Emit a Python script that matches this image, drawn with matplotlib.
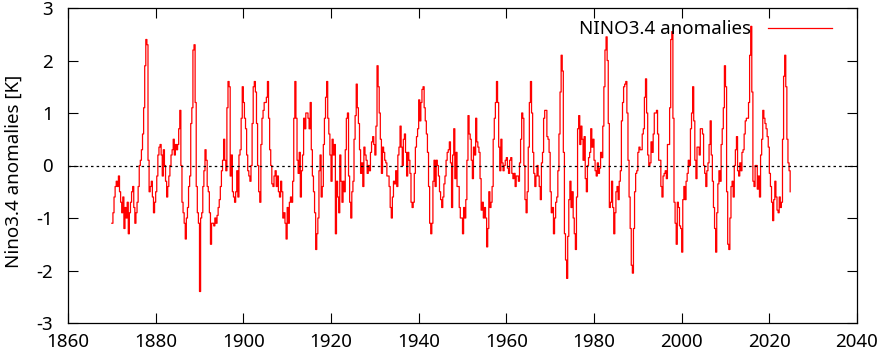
import matplotlib
matplotlib.use("Agg")
import matplotlib.pyplot as plt
import numpy as np

plt.rcParams["font.family"] = ["Noto Sans", "DejaVu Sans"]
plt.rcParams["axes.unicode_minus"] = False

# quarterly NINO3.4 anomalies [K], one list per decade
start_year = 1870
anom_1870s = [-1.1, -0.9, -0.6, -0.4, -0.3, -0.4, -0.2, -0.5, -0.7, -0.9, -0.6, -1.2,
              -0.8, -1.0, -0.7, -1.3, -0.9, -0.7, -0.5, -0.4, -0.8, -1.1, -0.9, -0.7,
              -0.4, 0.0, 0.1, 0.3, 0.6, 1.1, 1.9, 2.4, 2.3, 0.1, -0.5, -0.4,
              -0.3, -0.6, -0.9, -0.7]
anom_1880s = [-0.5, -0.2, 0.2, 0.35, 0.4, 0.2, -0.2, 0.3, 0.0, -0.3, -0.6, -0.4,
              -0.2, 0.0, 0.2, 0.3, 0.5, 0.2, 0.4, 0.3, 0.4, 0.7, 1.05, 0.0,
              -0.7, -0.9, -1.1, -1.4, -1.0, -0.8, -0.4, -0.2, 0.8, 1.1, 2.2, 2.3,
              1.2, -0.4, -0.9, -1.1]
anom_1890s = [-2.4, -1.0, -0.9, -0.4, -0.1, 0.3, 0.1, -0.4, -0.5, -0.9, -1.5, -1.1,
              -1.1, -1.15, -1.0, -1.1, -0.95, -0.8, -0.65, -0.4, -0.1, 0.1, 0.5, 0.1,
              -0.1, 1.1, 1.6, 1.5, -0.2, 0.2, -0.5, -0.6, -0.7, -0.5, -0.1, -0.6,
              0.2, 0.3, 0.9, 1.5]
anom_1900s = [1.2, 0.9, 0.7, 0.2, -0.1, -0.2, -0.3, 0.0, 0.8, 1.5, 1.6, 1.4,
              0.8, 0.0, -0.5, -0.7, 0.4, 0.9, 1.05, 1.2, 1.2, 1.3, 1.6, 0.9,
              0.3, 0.0, -0.35, -0.4, -0.2, -0.1, -0.4, -0.2, -0.5, -0.6, -0.3, -0.5,
              -1.0, -0.9, -1.1, -1.4]
anom_1910s = [-0.8, -1.1, -0.7, -0.6, -0.7, -0.3, 0.9, 1.6, 0.9, 0.1, -0.15, 0.25,
              -0.6, -0.1, 0.2, 0.9, 0.7, 1.0, 1.0, 0.9, 0.7, 1.2, 0.3, -0.2,
              -0.5, -0.9, -1.6, -1.3, -1.0, -0.1, 0.2, -0.6, -0.4, 0.4, 0.9, 1.3,
              1.6, 0.9, 0.6, 0.2]
anom_1920s = [-0.3, 0.5, 0.2, 0.4, -1.3, -0.3, -0.6, -0.9, 0.2, -0.3, -0.7, -0.3,
              -0.5, 0.3, 0.9, 1.0, -0.2, -0.7, -1.0, -0.5, -0.3, 0.5, 0.95, 1.55,
              1.1, 0.8, 0.3, -0.15, 0.05, -0.4, 0.35, 0.2, 0.1, -0.15, 0.0, -0.1,
              0.25, 0.45, 0.55, 0.4]
anom_1930s = [0.2, 0.75, 1.9, 1.5, 1.0, 0.5, -0.15, 0.35, 0.25, 0.1, 0.05, -0.2,
              -0.2, -0.4, -0.8, -1.0, -0.6, -0.3, -0.35, -0.1, -0.4, 0.2, 0.35, 0.75,
              0.35, 0.0, 0.5, 0.6, 0.25, -0.2, 0.25, 0.1, -0.15, -0.7, -0.8, -0.7,
              -0.15, 0.35, 0.55, 0.7]
anom_1940s = [1.25, 0.85, 1.2, 1.45, 1.5, 1.1, 0.85, 0.6, 0.25, -0.4, -1.1, -1.3,
              -1.1, -0.3, 0.1, -0.4, 0.1, 0.0, -0.2, -0.5, -0.65, -0.8, -0.6, -0.35,
              -0.2, 0.1, 0.25, 0.3, 0.45, 0.05, -0.8, 0.2, 0.7, -0.25, 0.25, -0.4,
              -0.4, -0.8, -1.0, -1.0]
anom_1950s = [-1.3, -0.8, -1.0, -0.65, 0.1, 0.95, 0.6, 0.5, 0.1, -0.25, 0.35, 0.2,
              0.9, 0.45, 0.35, 0.25, -0.25, -0.85, -0.7, -1.0, -0.8, -1.0, -1.55, -1.2,
              -0.5, -0.8, -0.7, -0.4, 0.5, 0.9, 1.2, 1.6, 1.2, 0.35, -0.1, 0.5,
              0.05, -0.1, 0.0, 0.1]
anom_1960s = [0.15, -0.05, -0.15, 0.1, 0.15, -0.15, -0.25, -0.15, -0.4, -0.2, -0.2, -0.3,
              0.05, 0.5, 1.0, 0.9, 0.0, -0.65, -0.9, -0.5, 0.35, 1.2, 1.6, 1.0,
              0.25, -0.15, -0.4, -0.2, 0.0, -0.2, -0.4, -0.65, 0.05, 0.25, 0.9, 1.05,
              1.05, 0.55, 0.5, 0.25]
anom_1970s = [-0.5, -0.9, -0.8, -1.3, -1.0, -0.7, -0.6, -0.1, 0.6, 1.4, 2.1, 1.8,
              0.25, -1.3, -1.8, -2.15, -1.35, -0.65, -0.3, -0.8, -0.5, -1.0, -1.3, -1.6,
              -0.6, 0.7, 0.95, 0.4, 0.75, 0.5, 0.1, 0.55, -0.25, -0.5, 0.0, 0.15,
              0.25, 0.7, 0.35, 0.5]
anom_1980s = [0.1, -0.1, -0.2, 0.05, -0.15, -0.05, 0.25, 0.15, 0.75, 1.5, 2.2, 2.45,
              2.0, 0.8, -0.8, -0.7, -0.3, -0.8, -1.3, -0.9, -0.5, -0.4, -0.65, -0.3,
              -0.1, 0.85, 1.2, 1.5, 1.55, 1.6, 1.0, 0.1, -0.6, -1.2, -1.9, -2.05,
              -1.2, -0.5, -0.15, -0.1]
anom_1990s = [0.25, 0.35, 0.3, 0.3, 0.6, 0.7, 1.3, 1.65, 1.0, 0.2, 0.0, 0.05,
              0.45, 0.25, 0.6, 1.0, 1.0, 1.05, 0.6, 0.1, 0.1, -0.4, -0.6, -0.2,
              -0.15, -0.1, -0.25, 0.4, 0.4, 1.1, 2.4, 2.55, 0.9, -0.7, -1.1, -1.5,
              -0.7, -0.8, -1.15, -1.2]
anom_2000s = [-1.65, -0.65, -0.4, -0.65, -0.3, -0.15, 0.1, 0.0, 0.7, 1.0, 1.5, 0.85,
              0.1, -0.25, 0.35, 0.35, 0.2, 0.7, 0.7, 0.6, 0.0, -0.15, -0.4, -0.1,
              0.05, 0.4, 0.85, 0.2, -0.3, -0.8, -1.2, -1.65, -0.9, -0.35, -0.1, -0.3,
              0.4, 0.7, 1.1, 1.9]
anom_2010s = [1.5, -0.5, -1.5, -1.6, -1.0, -0.4, -0.3, -0.6, 0.0, 0.3, 0.55, -0.1,
              -0.2, 0.05, -0.1, 0.25, 0.3, 0.6, 0.85, 0.9, 0.9, 1.2, 2.1, 2.65,
              1.4, -0.3, -0.4, 0.0, 0.0, -0.45, -0.2, -0.6, 0.2, 0.5, 1.05, 0.9,
              0.8, 0.7, 0.55, 0.35]
anom_2020s = [-0.15, -0.4, -0.7, -1.05, -0.65, -0.3, -0.6, -0.85, -0.9, -0.6, -0.8, -0.7,
              0.5, 1.7, 2.1, 1.5, 0.5, 0.05, -0.1, -0.5]

anomalies = np.array(anom_1870s + anom_1880s + anom_1890s + anom_1900s + anom_1910s
                     + anom_1920s + anom_1930s + anom_1940s + anom_1950s + anom_1960s
                     + anom_1970s + anom_1980s + anom_1990s + anom_2000s + anom_2010s
                     + anom_2020s)
years = start_year + np.arange(len(anomalies)) / 4.0

x_ticks = np.arange(1860, 2041, 20)
y_ticks = np.arange(-3, 4, 1)

fig = plt.figure(figsize=(8.79, 3.54), dpi=100)
ax = fig.add_axes([68 / 879, 1 - 323 / 354, (857 - 68) / 879, (323 - 8) / 354])

ax.plot(years, anomalies, color="#ff0000", lw=0.9, drawstyle="steps-post",
        label="NINO3.4 anomalies")
ax.axhline(0, color="black", lw=0.9, ls=(0, (2, 2.5)))

ax.set_xlim(1860, 2040)
ax.set_ylim(-3, 3)
ax.set_xticks(x_ticks)
ax.set_yticks(y_ticks)
ax.tick_params(direction="in", length=7, width=0.8, top=True, right=True,
               labelsize=13.5)
ax.tick_params(axis="x", pad=7)
ax.tick_params(axis="y", pad=11)
for s in ax.spines.values():
    s.set_linewidth(0.9)
ax.set_ylabel("Nino3.4 anomalies [K]", fontsize=13.5)
ax.yaxis.set_label_coords(-0.057, 0.48)

ax.legend(loc="center right", bbox_to_anchor=(0.968, 0.933), frameon=False,
          markerfirst=False, handlelength=3.4, handletextpad=0.9, borderpad=0,
          borderaxespad=0, fontsize=13.5)

fig.savefig("out.png", dpi=100)
